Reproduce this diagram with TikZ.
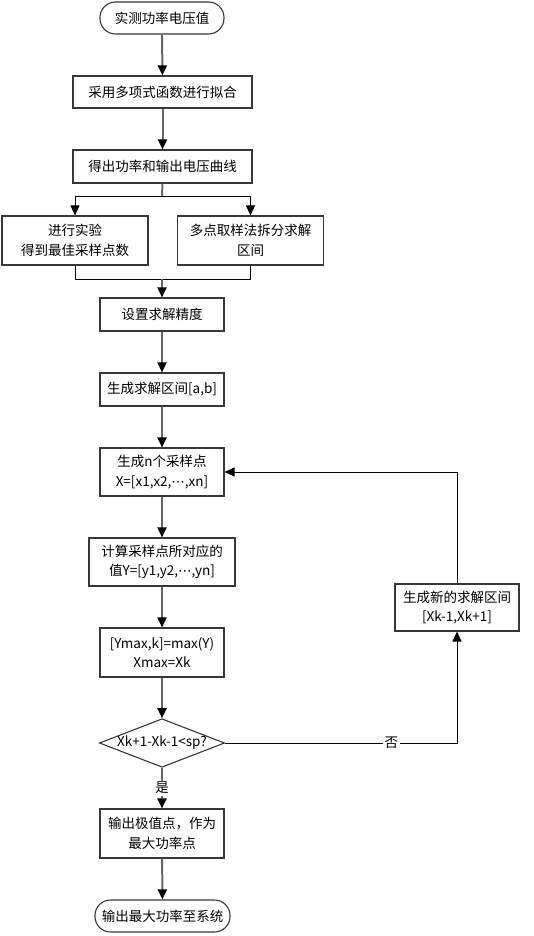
\documentclass[tikz,border=0pt]{standalone}
\usepackage{fontspec}
\setmainfont{Noto Sans CJK SC}
\newfontfamily\symfont{DejaVu Sans}
\newcommand{\cdotsym}{{\symfont ⋯}}
\usetikzlibrary{arrows.meta,shapes.geometric}
\begin{document}
\begin{tikzpicture}[x=1pt,y=-1pt,
  txt/.style={font=\fontsize{13.5}{19.5}\selectfont, align=center, inner sep=0pt},
  box/.style={txt, draw=black!78, line width=1.1pt, rectangle},
  term/.style={box, rounded corners=15.5pt},
  dia/.style={txt, draw=black!78, line width=1.1pt, shape=diamond, aspect=2.58},
  tipk/.tip={Triangle[length=10pt,width=9pt,color=black]},
  arrg/.style={draw=black!60, line width=2pt, -tipk},
  arrk/.style={draw=black, line width=1pt, -tipk},
  lnk/.style={draw=black, line width=1pt},
  lbl/.style={txt, fill=white, inner sep=1.5pt}
]
\useasboundingbox (0,0) rectangle (534,936);

\node[term, minimum width=124pt, minimum height=32pt] (start) at (162,18) {实测功率电压值};
\node[box, minimum width=179pt, minimum height=32pt] (b1) at (162.5,92) {采用多项式函数进行拟合};
\node[box, minimum width=179pt, minimum height=33pt] (b2) at (162.5,166.5) {得出功率和输出电压曲线};
\node[box, minimum width=146pt, minimum height=49pt] (L) at (75,240.5) {进行实验\\得到最佳采样点数};
\node[box, minimum width=146pt, minimum height=49pt] (R) at (250.5,240.5) {多点取样法拆分求解\\区间};
\node[box, minimum width=124pt, minimum height=33pt] (prec) at (162,314.5) {设置求解精度};
\node[box, minimum width=124pt, minimum height=33pt] (intv) at (162,389.5) {生成求解区间[a,b]};
\node[box, minimum width=124pt, minimum height=48pt] (samp) at (162,472) {生成n个采样点\\{X=[x1,x2,\cdotsym,xn]}};
\node[box, minimum width=146pt, minimum height=48pt] (calc) at (162,562) {计算采样点所对应的\\{值Y=[y1,y2,\cdotsym,yn]}};
\node[box, minimum width=124pt, minimum height=49pt] (maxb) at (162,652.5) {{[Ymax,k]=max(Y)}\\{Xmax=Xk}};
\node[dia, minimum width=124pt, minimum height=48pt] (dec) at (162,743) {Xk+1-Xk-1<sp?};
\node[box, minimum width=124pt, minimum height=49pt] (out) at (162,833.5) {输出极值点，作为\\最大功率点};
\node[term, minimum width=135pt, minimum height=32pt] (end) at (162.5,916) {输出最大功率至系统};
\node[box, minimum width=124pt, minimum height=47pt] (newb) at (457,607.5) {生成新的求解区间\\{[Xk-1,Xk+1]}};

\coordinate (split) at (162,196);
\coordinate (splitL) at (75,196);
\coordinate (splitR) at (250.5,196);
\coordinate (mergeL) at (75,279);
\coordinate (mergeR) at (250.5,279);
\coordinate (merge) at (162,279);
\coordinate (loopA) at (457,743);
\coordinate (loopB) at (457,472);

\draw[arrg] (start) -- (b1);
\draw[arrg] (b1) -- (b2);
\draw[draw=black!60, line width=2pt] (b2.south) -- (split);
\draw[lnk] (splitL) -- (splitR);
\draw[arrk] (splitL) -- (L.north);
\draw[arrk] (splitR) -- (R.north);
\draw[lnk] (L.south) -- (mergeL) -- (mergeR) -- (R.south);
\draw[arrg] (merge) -- (prec.north);
\draw[arrg] (prec) -- (intv);
\draw[arrg] (intv) -- (samp);
\draw[arrg] (samp) -- (calc);
\draw[arrg] (calc) -- (maxb);
\draw[arrg] (maxb) -- (dec.north);
\draw[arrg] (dec.south) -- node[lbl, pos=0.5] {是} (out.north);
\draw[arrg] (out) -- (end);
\draw[arrk] (dec.east) -- node[lbl, pos=0.717] {否} (loopA) -- (newb.south);
\draw[arrk] (newb.north) -- (loopB) -- (samp.east);
\end{tikzpicture}
\end{document}
